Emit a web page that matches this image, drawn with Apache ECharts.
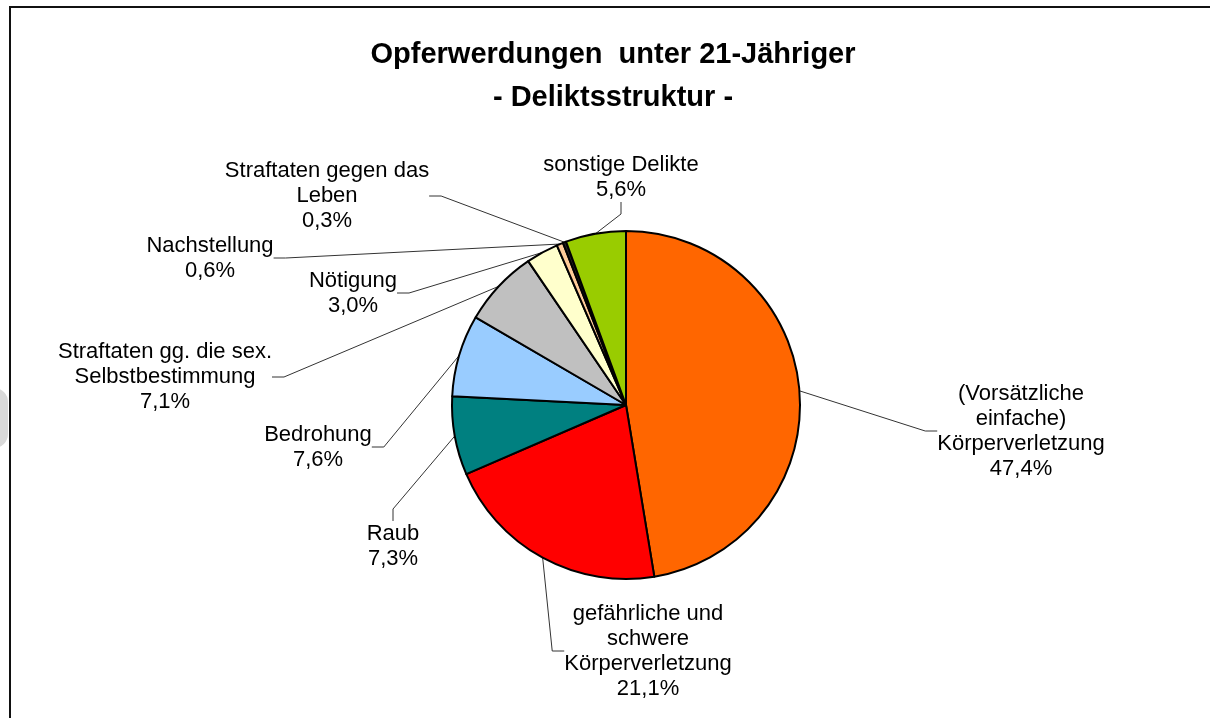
<!DOCTYPE html>
<html>
<head>
<meta charset="utf-8">
<script src="https://cdn.jsdelivr.net/npm/echarts@6/dist/echarts.min.js"></script>
<style>
  html, body { margin: 0; padding: 0; background: #fff; }
  #chart { width: 1210px; height: 718px; }
</style>
</head>
<body>
<div id="chart"></div>
<script>
  // Daten
  const categories = [
    '(Vorsätzliche\neinfache)\nKörperverletzung',
    'gefährliche und\nschwere\nKörperverletzung',
    'Raub',
    'Bedrohung',
    'Straftaten gg. die sex.\nSelbstbestimmung',
    'Nötigung',
    'Nachstellung',
    'Straftaten gegen das\nLeben',
    'sonstige Delikte'
  ];
  const shares = [47.4, 21.1, 7.3, 7.6, 7.1, 3.0, 0.6, 0.3, 5.6];
  const colors = ['#ff6600', '#ff0000', '#008080', '#99ccff', '#c0c0c0', '#ffffcc', '#ffcc99', '#222222', '#99cc00'];

  // Label-Positionen (Mitte des Textblocks)
  const labelPos = [
    [1021, 431], [648, 651], [393, 546], [318, 447], [165, 377],
    [353, 293], [210, 258], [327, 196], [621, 177]
  ];

  const chart = echarts.init(document.getElementById('chart'));

  const option = {
    animation: false,
    title: {
      text: 'Opferwerdungen  unter 21-Jähriger\n- Deliktsstruktur -',
      left: 608,
      top: 28,
      textAlign: 'center',
      textStyle: {
        fontFamily: 'Liberation Sans',
        fontSize: 29,
        fontWeight: 'bold',
        lineHeight: 43,
        color: '#000'
      }
    },
    graphic: [
      {
        type: 'rect',
        shape: { x: -20, y: 388, width: 28, height: 60, r: 22 },
        style: { fill: '#d9d9d9' }
      },
      {
        type: 'rect',
        shape: { x: 10, y: 7, width: 1400, height: 900 },
        style: { fill: 'none', stroke: '#111', lineWidth: 2 }
      }
    ],
    series: [
      {
        type: 'pie',
        center: [626, 405],
        radius: 174,
        startAngle: 90,
        clockwise: true,
        avoidLabelOverlap: false,
        itemStyle: { borderColor: '#000', borderWidth: 2 },
        label: {
          show: true,
          position: 'outside',
          fontFamily: 'Liberation Sans',
          fontSize: 22,
          lineHeight: 25,
          color: '#000',
          align: 'center',
          formatter: function (p) {
            return p.name + '\n' + p.value.toFixed(1).replace('.', ',') + '%';
          }
        },
        labelLine: {
          show: true,
          length: 10,
          length2: 12,
          smooth: false,
          minTurnAngle: 0,
          lineStyle: { color: '#333', width: 1 }
        },
        labelLayout: function (params) {
          const p = labelPos[params.dataIndex];
          return { x: p[0], y: p[1], align: 'center', verticalAlign: 'middle' };
        },
        emphasis: { disabled: true },
        data: categories.map(function (name, i) {
          return { name: name, value: shares[i], itemStyle: { color: colors[i] } };
        })
      }
    ]
  };

  chart.setOption(option);
</script>
</body>
</html>
